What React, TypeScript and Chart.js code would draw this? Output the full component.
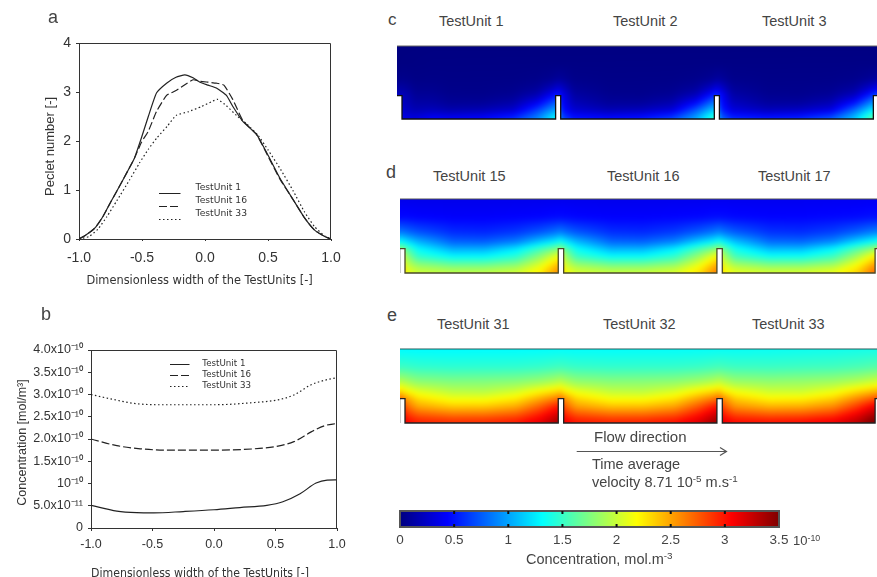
import React, { useEffect, useRef } from "react";
import { Chart, registerables } from "chart.js";

Chart.register(...registerables);

// ---------- panel a: Peclet number ----------
const aX1 = [-1, -0.94, -0.875, -0.81, -0.745, -0.68, -0.615, -0.56, -0.505, -0.45, -0.385, -0.305, -0.23, -0.16, -0.095, -0.04, 0.025, 0.09, 0.17, 0.22, 0.3, 0.41, 0.49, 0.595, 0.7, 0.79, 0.87, 0.95, 1];
const aY1 = [0, 0.09, 0.22, 0.46, 0.77, 1.07, 1.38, 1.65, 2.06, 2.5, 2.98, 3.18, 3.3, 3.35, 3.29, 3.2, 3.14, 3.08, 2.93, 2.71, 2.4, 2.13, 1.76, 1.24, 0.8, 0.43, 0.18, 0.05, 0];
const aX16 = [-1, -0.94, -0.875, -0.81, -0.745, -0.68, -0.615, -0.56, -0.505, -0.45, -0.385, -0.305, -0.23, -0.16, -0.095, -0.04, 0.025, 0.09, 0.15, 0.22, 0.3, 0.41, 0.49, 0.595, 0.7, 0.79, 0.87, 0.95, 1];
const aY16 = [0, 0.09, 0.22, 0.46, 0.77, 1.07, 1.38, 1.65, 1.97, 2.2, 2.6, 2.93, 3.03, 3.15, 3.25, 3.22, 3.2, 3.18, 3.14, 2.85, 2.42, 2.13, 1.74, 1.22, 0.8, 0.43, 0.18, 0.05, 0];
const aX33 = [-1, -0.92, -0.85, -0.78, -0.7, -0.6, -0.52, -0.45, -0.38, -0.3, -0.23, -0.13, -0.03, 0.05, 0.1, 0.17, 0.25, 0.33, 0.42, 0.5, 0.6, 0.7, 0.79, 0.87, 0.95, 1];
const aY33 = [0, 0.05, 0.2, 0.45, 0.78, 1.2, 1.55, 1.83, 2.07, 2.3, 2.52, 2.6, 2.7, 2.8, 2.85, 2.72, 2.52, 2.35, 2.12, 1.82, 1.42, 0.98, 0.55, 0.25, 0.06, 0];

// ---------- panel b: concentration, units of 1e-10 mol/m3 ----------
const bX = [-1, -0.79, -0.63, -0.49, -0.25, 0, 0.21, 0.43, 0.56, 0.7, 0.83, 0.92, 1];
const bY1 = [0.51, 0.38, 0.345, 0.34, 0.37, 0.41, 0.46, 0.51, 0.59, 0.77, 1.01, 1.075, 1.08];
const bX16 = [-1, -0.79, -0.6, -0.38, 0, 0.33, 0.52, 0.65, 0.79, 0.9, 1];
const bY16 = [2.0, 1.85, 1.78, 1.75, 1.75, 1.78, 1.84, 1.94, 2.16, 2.3, 2.35];
const bX33 = [-1, -0.82, -0.65, -0.46, 0, 0.33, 0.52, 0.65, 0.79, 0.9, 1];
const bY33 = [3.0, 2.89, 2.8, 2.77, 2.77, 2.82, 2.88, 2.99, 3.22, 3.32, 3.38];
const bTickLabels = ["0", "5.0x10⁻¹¹", "10⁻¹⁰", "1.5x10⁻¹⁰", "2.0x10⁻¹⁰", "2.5x10⁻¹⁰", "3.0x10⁻¹⁰", "3.5x10⁻¹⁰", "4.0x10⁻¹⁰"];
const seriesNames = ["TestUnit 1", "TestUnit 16", "TestUnit 33"];

// ---------- panels c, d, e: concentration field, one period of the wall pattern ----------
const fieldCols = [0, 0.08, 0.3, 0.5, 0.7, 0.85, 0.95, 0.984];
const fieldRows = [0, 0.04, 0.12, 0.22, 0.33, 0.42, 0.55, 0.75, 1];
const gainStops = [-0.03, 0.2, 0.95, 1.95, 2.95];

const fieldC = [
  [0.9, 0.65, 0.6, 0.62, 0.75, 1.1, 1.5, 1.65],
  [0.75, 0.5, 0.42, 0.45, 0.6, 0.95, 1.35, 1.45],
  [0.6, 0.32, 0.2, 0.22, 0.32, 0.75, 1.1, 1.2],
  [0.52, 0.22, 0.1, 0.1, 0.17, 0.45, 0.8, 0.92],
  [0.48, 0.14, 0.06, 0.05, 0.08, 0.2, 0.48, 0.62],
  [0.3, 0.09, 0.04, 0.04, 0.05, 0.1, 0.25, 0.35],
  [0.1, 0.04, 0.03, 0.03, 0.03, 0.04, 0.07, 0.1],
  [0.02, 0.02, 0.02, 0.02, 0.02, 0.02, 0.02, 0.02],
  [0.01, 0.01, 0.01, 0.01, 0.01, 0.01, 0.01, 0.01],
];
const gainC = [0.35, 0.8, 0.88, 1, 1.1];

const fieldD = [
  [2.25, 2.1, 2.05, 2.05, 2.1, 2.3, 2.6, 2.75],
  [2.2, 2.05, 1.95, 1.95, 2.02, 2.25, 2.55, 2.65],
  [2.1, 1.85, 1.7, 1.7, 1.8, 2.1, 2.4, 2.5],
  [1.95, 1.55, 1.35, 1.35, 1.5, 1.85, 2.15, 2.25],
  [1.7, 1.35, 1.05, 1.05, 1.25, 1.55, 1.75, 1.85],
  [1.3, 1.1, 0.8, 0.78, 0.9, 1.15, 1.3, 1.4],
  [0.85, 0.75, 0.6, 0.58, 0.64, 0.75, 0.85, 0.9],
  [0.48, 0.46, 0.44, 0.44, 0.45, 0.46, 0.48, 0.48],
  [0.38, 0.38, 0.38, 0.38, 0.38, 0.38, 0.38, 0.38],
];
const gainD = [0.96, 0.97, 0.98, 1, 1.03];

const fieldE = [
  [3.15, 3.05, 3.0, 3.0, 3.05, 3.2, 3.4, 3.48],
  [3.1, 2.98, 2.92, 2.92, 2.98, 3.15, 3.35, 3.42],
  [2.98, 2.8, 2.7, 2.7, 2.78, 3.0, 3.2, 3.28],
  [2.8, 2.55, 2.42, 2.42, 2.52, 2.78, 3.0, 3.05],
  [2.6, 2.35, 2.18, 2.18, 2.28, 2.5, 2.65, 2.75],
  [2.3, 2.15, 2.0, 1.98, 2.08, 2.25, 2.35, 2.4],
  [1.95, 1.85, 1.8, 1.8, 1.82, 1.88, 1.95, 2.0],
  [1.55, 1.52, 1.5, 1.5, 1.5, 1.52, 1.55, 1.56],
  [1.32, 1.32, 1.32, 1.32, 1.32, 1.32, 1.32, 1.32],
];
const gainE = [0.98, 0.98, 0.99, 1, 1.04];

// wall outlines (x in unit pitches, y in channel heights)
const wallXC = [-0.0315, 0, 0, 0.968, 0.968, 1, 1, 1.968, 1.968, 2, 2, 2.97, 2.97, 2.993];
const wallYC = [0.32, 0.32, 0, 0, 0.32, 0.32, 0, 0, 0.32, 0.32, 0, 0, 0.32, 0.32];
const wallXD = [-0.0315, 0, 0, 0.966, 0.966, 1, 1, 1.966, 1.966, 2, 2, 2.963, 2.963, 2.975];
const wallYD = [0.33, 0.33, 0, 0, 0.33, 0.33, 0, 0, 0.33, 0.33, 0, 0, 0.33, 0.33];

const colorbarTicks = [0, 0.5, 1, 1.5, 2, 2.5, 3, 3.5];

// ---------- helpers ----------
const INK = "#333";
const ARIAL = "'Liberation Sans', Arial, sans-serif";
const VERDANA = "'DejaVu Sans', sans-serif";
const X_TITLE = "Dimensionless width of the TestUnits [-]";

const pairs = (xs: number[], ys: number[]) => xs.map((x, i) => ({ x, y: ys[i] }));

const jet = (v: number): [number, number, number] => {
  const t = Math.max(0, Math.min(1, v / 3.5));
  const ch = (d: number) => Math.max(0, Math.min(1, 1.5 - Math.abs(4 * t - d))) * 255;
  return [ch(3), ch(2), ch(1)];
};

const locate = (stops: number[], v: number): [number, number] => {
  let i = 0;
  while (i < stops.length - 2 && v > stops[i + 1]) i++;
  const t = (v - stops[i]) / (stops[i + 1] - stops[i]);
  return [i, Math.max(0, Math.min(1, t))];
};

const sampleField = (grid: number[][], gains: number[]) => (x: number, y: number) => {
  const f = x - Math.floor(x);
  const cols = [...fieldCols, 1];
  const [ci, ct] = locate(cols, f);
  const [ri, rt] = locate(fieldRows, y);
  const cn = (ci + 1) % fieldCols.length;
  const a = grid[ri][ci] * (1 - ct) + grid[ri][cn] * ct;
  const b = grid[ri + 1][ci] * (1 - ct) + grid[ri + 1][cn] * ct;
  const [gi, gt] = locate(gainStops, x);
  return (a * (1 - rt) + b * rt) * (gains[gi] * (1 - gt) + gains[gi + 1] * gt);
};

const heatPlugin = (valueAt: (x: number, y: number) => number, clipPts?: { x: number; y: number }[], blur = 0) => ({
  id: "heat",
  beforeDatasetsDraw(chart: any) {
    const { ctx, chartArea: a, scales } = chart;
    const w = Math.round(a.right - a.left);
    const h = Math.round(a.bottom - a.top);
    const off = document.createElement("canvas");
    off.width = w;
    off.height = h;
    const octx = off.getContext("2d")!;
    const img = octx.createImageData(w, h);
    for (let j = 0; j < h; j++) {
      const yv = scales.y.getValueForPixel(a.top + j + 0.5);
      for (let i = 0; i < w; i++) {
        const xv = scales.x.getValueForPixel(a.left + i + 0.5);
        const [r, g, b] = jet(valueAt(xv, yv));
        const k = (j * w + i) * 4;
        img.data[k] = r;
        img.data[k + 1] = g;
        img.data[k + 2] = b;
        img.data[k + 3] = 255;
      }
    }
    octx.putImageData(img, 0, 0);
    ctx.save();
    if (clipPts) {
      ctx.beginPath();
      clipPts.forEach((p, i) => {
        const px = scales.x.getPixelForValue(p.x);
        const py = scales.y.getPixelForValue(p.y);
        if (i === 0) ctx.moveTo(px, py);
        else ctx.lineTo(px, py);
      });
      ctx.closePath();
      ctx.clip();
    }
    ctx.drawImage(off, a.left, a.top);
    if (blur > 0) {
      ctx.filter = `blur(${blur}px)`;
      ctx.drawImage(off, a.left, a.top);
      ctx.filter = "none";
    }
    ctx.restore();
  },
});

const framePlugin = {
  id: "frame",
  afterDraw(chart: any) {
    const { ctx, chartArea: a } = chart;
    ctx.save();
    ctx.strokeStyle = INK;
    ctx.lineWidth = 1;
    ctx.beginPath();
    ctx.moveTo(a.left, a.top + 0.5);
    ctx.lineTo(a.right - 0.5, a.top + 0.5);
    ctx.lineTo(a.right - 0.5, a.bottom);
    ctx.stroke();
    ctx.restore();
  },
};

const legendAt = (left: number, top: number) => ({
  id: "legendAt",
  beforeDraw(chart: any) {
    chart.legend.left = left;
    chart.legend.top = top;
    chart.legend.bottom = top + 400;
  },
});

const sampleLine = (w: number, len: number, dy: number, dash: number[]) => {
  const c = document.createElement("canvas");
  c.width = w;
  c.height = 24;
  const x = c.getContext("2d")!;
  x.strokeStyle = "#222";
  x.lineWidth = 1;
  x.setLineDash(dash);
  x.beginPath();
  x.moveTo(0, 12.5 + dy);
  x.lineTo(len, 12.5 + dy);
  x.stroke();
  return c;
};

const SOLID: number[] = [];
const DASH = [8, 3];
const DOT = [1.5, 2.5];

interface LineSpec {
  series: { x: number; y: number }[][];
  yMax: number;
  yStep: number;
  yLabel: (v: number) => string;
  yTitle: string;
  xTitle: string;
  padding: { left: number; top: number; right: number; bottom: number };
  yWidth: number;
  xHeight: number;
  tickSize: number;
  titleSize: number;
  xTickLen: number;
  xTickPad: number;
  legendFont: number;
  legendGap: number;
  legendBox: number;
  sampleLen: number;
  sampleDy: number;
  legendPos: [number, number];
  monotone: boolean;
}

const lineConfig = (s: LineSpec): any => ({
  type: "scatter",
  data: {
    datasets: s.series.map((data, i) => ({
      label: seriesNames[i],
      data,
      showLine: true,
      borderColor: "#222",
      backgroundColor: "#222",
      borderWidth: 1.2,
      borderDash: [SOLID, DASH, DOT][i],
      pointRadius: 0,
      pointStyle: sampleLine(s.legendBox, s.sampleLen, s.sampleDy, [SOLID, DASH, DOT][i]),
      tension: s.monotone ? 0 : 0.15,
      cubicInterpolationMode: s.monotone ? "monotone" : "default",
    })),
  },
  options: {
    animation: false,
    responsive: false,
    layout: { padding: s.padding },
    plugins: {
      tooltip: { enabled: false },
      legend: {
        position: "chartArea",
        align: "start",
        labels: {
          usePointStyle: true,
          pointStyleWidth: s.legendBox,
          padding: s.legendGap,
          color: INK,
          font: { family: VERDANA, size: s.legendFont },
        },
      },
    },
    scales: {
      x: {
        type: "linear",
        min: -1,
        max: 1,
        afterFit: (sc: any) => { sc.height = s.xHeight; },
        grid: { drawOnChartArea: false, tickLength: s.xTickLen, tickColor: INK },
        border: { color: INK },
        ticks: {
          stepSize: 0.5,
          padding: s.xTickPad,
          color: INK,
          maxRotation: 0,
          font: { family: ARIAL, size: s.tickSize },
          callback: (v: number) => v.toFixed(1),
        },
        title: {
          display: true,
          text: s.xTitle,
          color: INK,
          padding: 0,
          font: { family: VERDANA, size: 11.4, lineHeight: 1 },
        },
      },
      y: {
        type: "linear",
        min: 0,
        max: s.yMax,
        afterFit: (sc: any) => { sc.width = s.yWidth; },
        grid: { drawOnChartArea: false, tickLength: 3, tickColor: INK },
        border: { color: INK },
        ticks: {
          stepSize: s.yStep,
          padding: 5,
          color: INK,
          font: { family: ARIAL, size: s.tickSize },
          callback: s.yLabel,
        },
        title: {
          display: true,
          text: s.yTitle,
          color: INK,
          padding: 0,
          font: { family: ARIAL, size: s.titleSize },
        },
      },
    },
  },
  plugins: [framePlugin, legendAt(s.legendPos[0], s.legendPos[1])],
});

const fieldConfig = (
  grid: number[][],
  gains: number[],
  wallX: number[],
  wallY: number[],
  xMin: number,
  xMax: number,
  wallColor: string,
  topColor: string,
  leftWall: boolean,
): any => {
  const wall = pairs(wallX, wallY);
  const clipPts = [{ x: xMin, y: 1 }, { x: xMax, y: 1 }, { x: xMax, y: wallY[wallY.length - 1] }, ...wall.slice().reverse()];
  const datasets: any[] = [
    { data: [{ x: xMin, y: 1 }, { x: xMax, y: 1 }], borderColor: topColor, borderWidth: 1 },
    { data: wall, borderColor: wallColor, borderWidth: 1.3 },
  ];
  if (leftWall) datasets.push({ data: [{ x: xMin, y: 0 }, { x: xMin, y: wallY[0] }], borderColor: "#999", borderWidth: 1 });
  return {
    type: "scatter",
    data: {
      datasets: datasets.map((d) => ({ ...d, showLine: true, pointRadius: 0, clip: false })),
    },
    options: {
      animation: false,
      responsive: false,
      layout: { padding: { top: 6, bottom: 6, left: 0, right: 0 } },
      plugins: { legend: { display: false }, tooltip: { enabled: false } },
      scales: {
        x: { type: "linear", min: xMin, max: xMax, display: false },
        y: { type: "linear", min: 0, max: 1, display: false },
      },
    },
    plugins: [heatPlugin(sampleField(grid, gains), clipPts, 2.5)],
  };
};

const colorbarConfig = (): any => ({
  type: "scatter",
  data: { datasets: [{ data: [], pointRadius: 0 }] },
  options: {
    animation: false,
    responsive: false,
    layout: { padding: { left: 20, top: 11, right: 31, bottom: 0 } },
    plugins: { legend: { display: false }, tooltip: { enabled: false } },
    scales: {
      x: {
        type: "linear",
        min: colorbarTicks[0],
        max: colorbarTicks[colorbarTicks.length - 1],
        afterFit: (sc: any) => { sc.height = 33; },
        afterBuildTicks: (sc: any) => { sc.ticks = colorbarTicks.map((value) => ({ value })); },
        grid: { display: false, drawTicks: false },
        border: { display: false },
        ticks: {
          padding: 5,
          color: "#444",
          maxRotation: 0,
          font: { family: ARIAL, size: 13.5 },
          callback: (v: number) => String(v),
        },
      },
      y: { type: "linear", min: 0, max: 1, display: false },
    },
  },
  plugins: [
    heatPlugin((x) => x),
    {
      id: "barFrame",
      afterDraw(chart: any) {
        const { ctx, chartArea: a, scales } = chart;
        ctx.save();
        ctx.strokeStyle = "#555";
        ctx.lineWidth = 2;
        ctx.strokeRect(a.left, a.top, a.right - a.left, a.bottom - a.top);
        ctx.fillStyle = "#111";
        colorbarTicks.slice(1, -1).forEach((t) => {
          const px = scales.x.getPixelForValue(t);
          ctx.fillRect(px - 1, a.top, 2, 3);
          ctx.fillRect(px - 1, a.bottom - 3, 2, 3);
        });
        ctx.restore();
      },
    },
  ],
});

// ---------- react ----------
const ChartCanvas = ({ make, left, top, width, height }: { make: () => any; left: number; top: number; width: number; height: number }) => {
  const ref = useRef<HTMLCanvasElement>(null);
  useEffect(() => {
    const chart = new Chart(ref.current!, make());
    return () => chart.destroy();
  }, []);
  return <canvas ref={ref} width={width} height={height} style={{ position: "absolute", left, top, width, height, display: "block" }} />;
};

const Note = ({ x, y, size = 14.5, children }: { x: number; y: number; size?: number; children: React.ReactNode }) => (
  <div style={{ position: "absolute", left: x, top: y, transform: "translateY(-50%)", fontFamily: ARIAL, fontSize: size, color: "#444", whiteSpace: "nowrap", lineHeight: 1 }}>
    {children}
  </div>
);
const Sup = ({ children }: { children: React.ReactNode }) => (
  <sup style={{ fontSize: "0.68em", lineHeight: 0, verticalAlign: "0.45em" }}>{children}</sup>
);

const panelA = () =>
  lineConfig({
    series: [pairs(aX1, aY1), pairs(aX16, aY16), pairs(aX33, aY33)],
    yMax: 4,
    yStep: 1,
    yLabel: (v) => String(v),
    yTitle: "Peclet number [-]   ",
    xTitle: X_TITLE + "   ",
    padding: { left: 43, top: 43, right: 39, bottom: 3 },
    yWidth: 36,
    xHeight: 48,
    tickSize: 14,
    titleSize: 13,
    xTickLen: 2,
    xTickPad: 9,
    legendFont: 9.2,
    legendGap: 3.8,
    legendBox: 32,
    sampleLen: 21.5,
    sampleDy: 5,
    legendPos: [155.2, 179.6],
    monotone: false,
  });

const panelB = () =>
  lineConfig({
    series: [pairs(bX, bY1), pairs(bX16, bY16), pairs(bX33, bY33)],
    yMax: 4,
    yStep: 0.5,
    yLabel: (v) => bTickLabels[Math.round(v * 2)],
    yTitle: "Concentration [mol/m³]  ",
    xTitle: X_TITLE + "        ",
    padding: { left: 15, top: 60, right: 33, bottom: 0 },
    yWidth: 76,
    xHeight: 52,
    tickSize: 12.5,
    titleSize: 12.5,
    xTickLen: 3,
    xTickPad: 6,
    legendFont: 8.7,
    legendGap: 2.3,
    legendBox: 28,
    sampleLen: 19.5,
    sampleDy: 0,
    legendPos: [167.7, 67.35],
    monotone: true,
  });

export default function App() {
  return (
    <div style={{ position: "absolute", left: 0, top: 0, width: 877, height: 577, overflow: "hidden", background: "#fff" }}>
      <ChartCanvas make={panelA} left={0} top={0} width={370} height={290} />
      <ChartCanvas make={panelB} left={0} top={290} width={370} height={290} />
      <ChartCanvas make={() => fieldConfig(fieldC, gainC, wallXC, wallYC, -0.0315, 2.993, "#111", "#666", false)} left={397} top={40} width={480} height={85} />
      <ChartCanvas make={() => fieldConfig(fieldD, gainD, wallXD, wallYD, -0.0315, 2.975, "#4a4a2a", "#555", true)} left={400} top={193} width={477} height={86} />
      <ChartCanvas make={() => fieldConfig(fieldE, gainE, wallXD, wallYD, -0.0315, 2.975, "#222", "#2a5a5a", true)} left={400} top={343} width={477} height={86} />
      <ChartCanvas make={colorbarConfig} left={380} top={500} width={430} height={60} />

      <Note x={48} y={17} size={18}>a</Note>
      <Note x={41} y={314} size={18}>b</Note>
      <Note x={388} y={19} size={17}>c</Note>
      <Note x={386} y={172} size={18}>d</Note>
      <Note x={387} y={315} size={18}>e</Note>

      <Note x={439} y={21}>TestUnit 1</Note>
      <Note x={613} y={21}>TestUnit 2</Note>
      <Note x={762} y={21}>TestUnit 3</Note>
      <Note x={433} y={176}>TestUnit 15</Note>
      <Note x={607} y={176}>TestUnit 16</Note>
      <Note x={758} y={176}>TestUnit 17</Note>
      <Note x={437} y={324}>TestUnit 31</Note>
      <Note x={603} y={324}>TestUnit 32</Note>
      <Note x={752} y={324}>TestUnit 33</Note>

      <Note x={594} y={436} size={15}>Flow direction</Note>
      <svg width={877} height={577} style={{ position: "absolute", left: 0, top: 0, pointerEvents: "none" }}>
        <path d="M576.7 451.5H726.5M720 447.5L726.5 451.5L720 455.5" fill="none" stroke="#555" strokeWidth={1.2} />
      </svg>
      <Note x={592} y={464}>Time average</Note>
      <Note x={592} y={482}>velocity 8.71 10<Sup>-5</Sup> m.s<Sup>-1</Sup></Note>
      <Note x={793} y={540} size={13}>10<Sup>-10</Sup></Note>
      <Note x={526} y={559}>Concentration, mol.m<Sup>-3</Sup></Note>
    </div>
  );
}
